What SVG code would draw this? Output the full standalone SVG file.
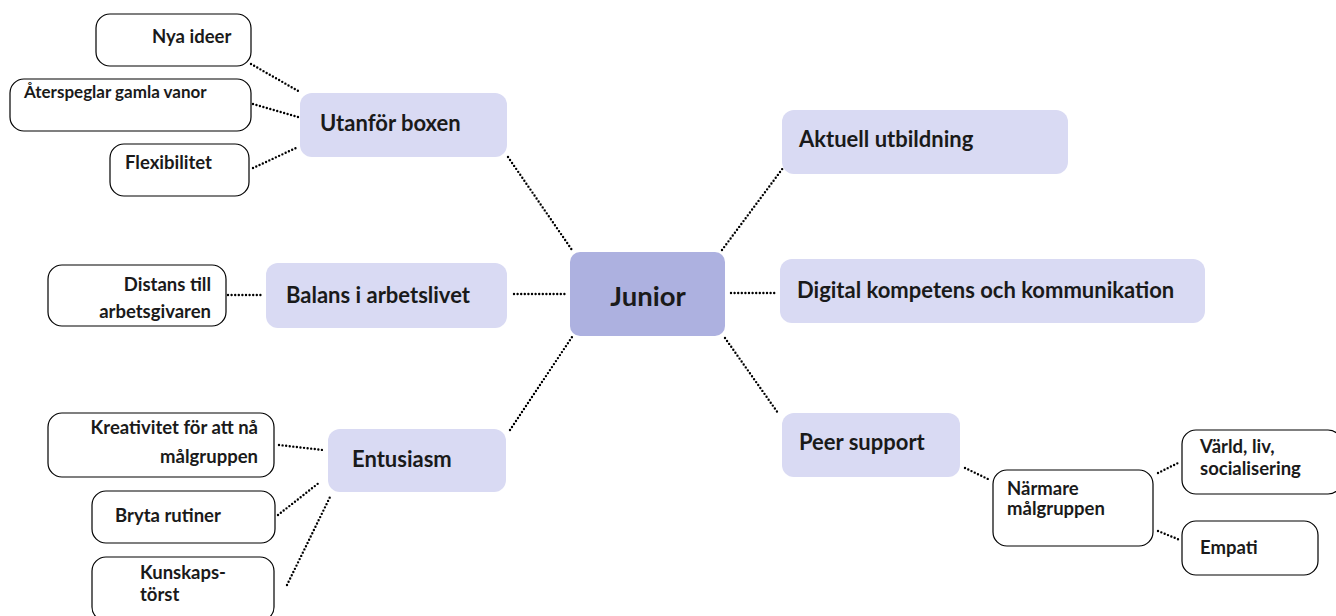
<svg xmlns="http://www.w3.org/2000/svg" width="1336" height="616" viewBox="0 0 1336 616">
<style>
.main{fill:#d9daf3;}
.core{fill:#adb1e0;}
.leaf{fill:#fff;stroke:#000;stroke-width:1.2;}
text{font-family:Lato,"Liberation Sans",sans-serif;font-weight:700;fill:#1a1a1a;}
.t1{font-size:22px;}
.t2{font-size:18.5px;}
.t3{font-size:17px;}
.tj{font-size:27.5px;}
#connectors line{stroke:#000;stroke-width:2.4;stroke-linecap:round;stroke-dasharray:0 3.6;fill:none;}
</style>
<rect width="1336" height="616" fill="#fff"/>
<g id="connectors">
<line x1="251" y1="64" x2="300" y2="92"/>
<line x1="253" y1="104" x2="298" y2="117"/>
<line x1="253" y1="168" x2="296" y2="148"/>
<line x1="508" y1="157" x2="572" y2="250"/>
<line x1="228" y1="295" x2="262" y2="295"/>
<line x1="514" y1="294" x2="567" y2="294"/>
<line x1="510" y1="430" x2="572" y2="337"/>
<line x1="279" y1="445" x2="323" y2="450"/>
<line x1="278" y1="515" x2="320" y2="482"/>
<line x1="287" y1="585" x2="330" y2="497"/>
<line x1="722" y1="250" x2="783" y2="168"/>
<line x1="731" y1="293" x2="777" y2="293"/>
<line x1="725" y1="338" x2="778" y2="413"/>
<line x1="965" y1="468" x2="990" y2="480"/>
<line x1="1158" y1="473" x2="1180" y2="462"/>
<line x1="1158" y1="531" x2="1180" y2="540"/>
</g>
<g id="junior"><rect class="core" x="570" y="252" width="155" height="84" rx="10"/><text class="tj" x="648" y="306" text-anchor="middle">Junior</text></g>
<g id="utanfor"><rect class="main" x="300" y="93" width="207" height="64" rx="12"/><text class="t1" x="320" y="131">Utanför boxen</text></g>
<g id="balans"><rect class="main" x="266" y="263" width="241" height="65" rx="12"/><text class="t1" x="286" y="303">Balans i arbetslivet</text></g>
<g id="entusiasm"><rect class="main" x="328" y="429" width="178" height="63" rx="12"/><text class="t1" x="352" y="467">Entusiasm</text></g>
<g id="aktuell"><rect class="main" x="782" y="110" width="286" height="64" rx="12"/><text class="t1" x="799" y="147">Aktuell utbildning</text></g>
<g id="digital"><rect class="main" x="780" y="259" width="425" height="64" rx="12"/><text class="t1" x="797" y="298">Digital kompetens och kommunikation</text></g>
<g id="peer"><rect class="main" x="782" y="413" width="178" height="64" rx="12"/><text class="t1" x="799" y="450">Peer support</text></g>
<g id="nya"><rect class="leaf" x="96" y="14" width="155" height="52" rx="14"/><text class="t2" x="152" y="43">Nya ideer</text></g>
<g id="aterspeglar"><rect class="leaf" x="10" y="79" width="241" height="52" rx="14"/><text class="t3" x="24" y="98">Återspeglar gamla vanor</text></g>
<g id="flex"><rect class="leaf" x="110" y="144" width="139" height="52" rx="14"/><text class="t2" x="125" y="169">Flexibilitet</text></g>
<g id="distans"><rect class="leaf" x="48" y="265" width="178" height="61" rx="14"/><text class="t2" x="211" y="291" text-anchor="end">Distans till</text><text class="t2" x="211" y="318" text-anchor="end">arbetsgivaren</text></g>
<g id="kreativitet"><rect class="leaf" x="48" y="413" width="226" height="64" rx="14"/><text class="t2" x="258" y="434" text-anchor="end">Kreativitet för att nå</text><text class="t2" x="258" y="463" text-anchor="end">målgruppen</text></g>
<g id="bryta"><rect class="leaf" x="92" y="491" width="183" height="52" rx="14"/><text class="t2" x="115" y="522">Bryta rutiner</text></g>
<g id="kunskap"><rect class="leaf" x="92" y="557" width="182" height="64" rx="14"/><text class="t2" x="140" y="579">Kunskaps-</text><text class="t2" x="140" y="601">törst</text></g>
<g id="narmare"><rect class="leaf" x="993" y="470" width="160" height="76" rx="14"/><text class="t2" x="1007" y="495">Närmare</text><text class="t2" x="1007" y="515">målgruppen</text></g>
<g id="varld"><rect class="leaf" x="1182" y="430" width="160" height="64" rx="14"/><text class="t2" x="1200" y="453">Värld, liv,</text><text class="t2" x="1200" y="475">socialisering</text></g>
<g id="empati"><rect class="leaf" x="1182" y="521" width="136" height="54" rx="14"/><text class="t2" x="1200" y="554">Empati</text></g>
</svg>
